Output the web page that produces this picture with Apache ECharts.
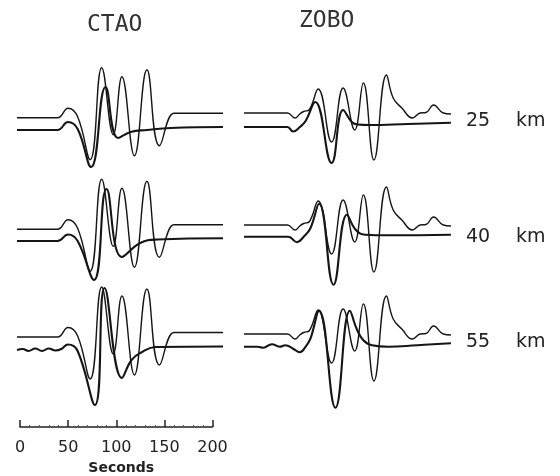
<!DOCTYPE html>
<html>
<head>
<meta charset="utf-8">
<script src="https://cdn.jsdelivr.net/npm/echarts@6/dist/echarts.min.js"></script>
<style>html,body{margin:0;background:#fff}#main{width:560px;height:476px}</style>
</head>
<body>
<div id="main"></div>
<script>
var stations = ['CTAO', 'ZOBO'];
var depths = ['25', '40', '55'];
var scaleTicks = [0, 50, 100, 150, 200];

var obsCtao = [[0,0],[42,0],[53,9.5],[63,1],[76,-42],[88,50],[100,-17],[109,41],[122,-38],[135,48],[148,-28],[163,4.5],[170,4.5],[214,4.5]];
var synCtao25 = [[0,0],[42,0],[53,8],[63,1],[77,-37],[92,43],[105,-8],[118,-2],[135,0],[160,2],[214,3]];
var synCtao40 = [[0,0],[42,0],[53,6.5],[63,0],[80,-39],[93,52],[109,-16],[128,-2],[146,1.5],[214,2.7]];
var synCtao55 = [[0,0],[6,1],[12,-1],[19,1.5],[26,-1],[33,1.5],[40,-0.5],[46,1],[53,5.5],[63,-1],[81,-55],[91,62],[109,-28],[119,-10],[130,-2],[144,3],[214,3.5]];

var obsZobo = [[0,0],[45,0],[53,-5],[58,-1],[62,1.5],[68,3.5],[77,24],[91,-29],[103,25],[115,-17],[124,30],[135,-47],[148,38],[155,15],[164,5],[175,-5],[183,0],[189,0.5],[197,8],[207,0],[215,-1]];
var synZobo25 = [[0,0],[45,0],[51,-4.5],[58,0],[64,6],[74,25],[91,-36],[103,17],[112,5],[118,2.5],[130,2],[170,3],[215,4.3]];
var synZobo40 = [[0,0],[46,0],[55,-5.5],[62,0],[69,8.5],[78,33],[93,-48],[107,22],[116,7],[126,2],[150,1.5],[215,2]];
var synZobo55 = [[0,0],[14,0],[20,-1],[29,2.5],[37,0],[43,1.5],[51,-2],[58,-5.5],[64,0],[69,8],[78,36],[95,-61],[110,36],[117,18],[124,6.5],[133,1.5],[150,0],[180,1.5],[215,3.4]];

var myChart = echarts.init(document.getElementById('main'));

var pxPerSec = 0.9625;
var colLeft = [17, 244];
var obsBase = [[117.7, 229.3, 337], [113, 225, 334]];
var synBase = [[130, 241, 350], [127, 236.7, 346.7]];
var labelY = [121, 237.5, 342.5];
var traces = [
  { obs: obsCtao, syn: [synCtao25, synCtao40, synCtao55] },
  { obs: obsZobo, syn: [synZobo25, synZobo40, synZobo55] }
];

var grid = [], xAxis = [], yAxis = [], series = [];

function addTrace(left, base, data, width) {
  var i = grid.length;
  grid.push({ left: left, top: base - 70, width: 215 * pxPerSec, height: 140 });
  xAxis.push({ type: 'value', gridIndex: i, min: 0, max: 215, show: false });
  yAxis.push({ type: 'value', gridIndex: i, min: -70, max: 70, show: false });
  series.push({
    type: 'line', xAxisIndex: i, yAxisIndex: i, data: data,
    showSymbol: false, smooth: 0.45, silent: true, clip: false,
    lineStyle: { color: '#151515', width: width }
  });
}

for (var c = 0; c < 2; c++) {
  for (var r = 0; r < 3; r++) {
    addTrace(colLeft[c], obsBase[c][r], traces[c].obs, 1.4);
    addTrace(colLeft[c], synBase[c][r], traces[c].syn[r], 2.1);
  }
}

// time scale bar
var k = grid.length;
grid.push({ left: 20, top: 400, width: 200 * pxPerSec, height: 33.5 });
xAxis.push({
  type: 'value', gridIndex: k, position: 'bottom',
  min: scaleTicks[0], max: scaleTicks[scaleTicks.length - 1],
  interval: scaleTicks[1] - scaleTicks[0],
  axisLine: { show: true, onZero: false, lineStyle: { color: '#222', width: 1.5 } },
  axisTick: { show: true, inside: true, length: 7, lineStyle: { color: '#222', width: 1.5 } },
  minorTick: { show: true, splitNumber: 5, length: 2, lineStyle: { color: '#555' } },
  splitLine: { show: false },
  axisLabel: { margin: 13, fontSize: 16, color: '#222', fontFamily: 'DejaVu Sans' },
  name: 'Seconds', nameLocation: 'middle', nameGap: 34,
  nameTextStyle: { fontSize: 14, fontWeight: 'bold', color: '#222', fontFamily: 'DejaVu Sans', padding: [0, 0, 0, 10] }
});
yAxis.push({ type: 'value', gridIndex: k, show: false });

var graphic = [
  { type: 'text', left: 87, top: 14, style: { text: stations[0], fontSize: 23, fontFamily: 'DejaVu Sans Mono', fill: '#333' } },
  { type: 'text', left: 299, top: 10, style: { text: stations[1], fontSize: 23, fontFamily: 'DejaVu Sans Mono', fill: '#333' } }
];
depths.forEach(function (d, r) {
  graphic.push({ type: 'text', x: 466, y: labelY[r], style: { text: d, fontSize: 19, fontFamily: 'DejaVu Sans', fill: '#222', verticalAlign: 'middle' } });
  graphic.push({ type: 'text', x: 516, y: labelY[r], style: { text: 'km', fontSize: 19, fontFamily: 'DejaVu Sans', fill: '#222', verticalAlign: 'middle' } });
});

option = {
  backgroundColor: '#fff',
  animation: false,
  grid: grid,
  xAxis: xAxis,
  yAxis: yAxis,
  series: series,
  graphic: graphic
};

myChart.setOption(option);
</script>
</body>
</html>
